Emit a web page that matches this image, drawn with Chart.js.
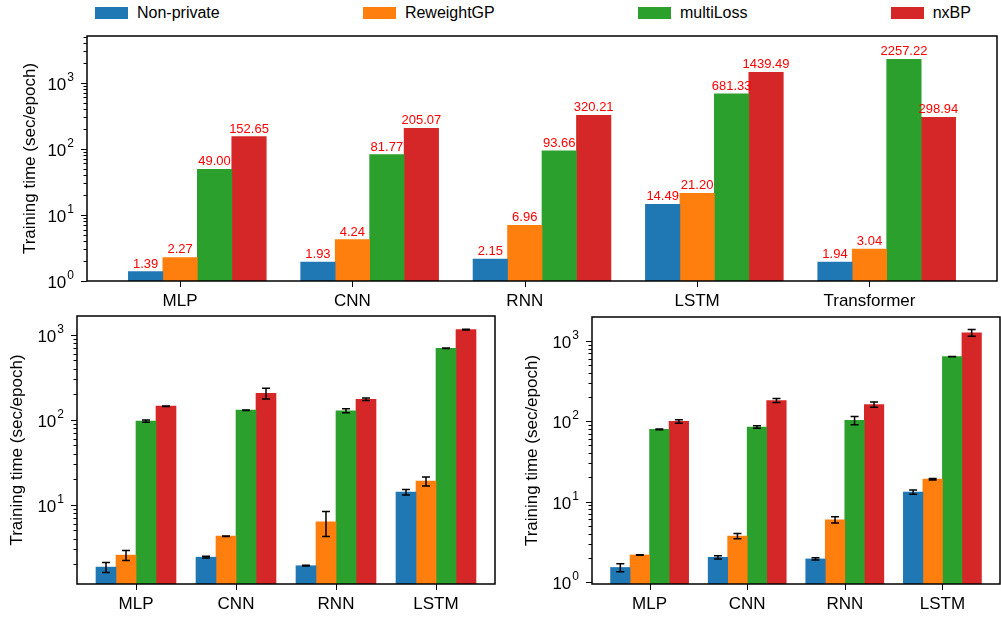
<!DOCTYPE html>
<html lang="en">
<head>
<meta charset="UTF-8" />
<title>Training time per epoch</title>
<script src="https://cdn.jsdelivr.net/npm/chart.js"></script>
<style>
    body {
        margin: 0;
        background: #fff;
        font-family: 'Liberation Sans', Arial, sans-serif;
    }
    #wrap {
        position: relative;
        width: 1001px;
        height: 617px;
        overflow: hidden;
    }
    canvas {
        position: absolute;
    }
    #legend {
        position: absolute;
        left: 95px;
        width: 876px;
        top: 4px;
        height: 18px;
        display: flex;
        justify-content: space-between;
        align-items: center;
    }
    .item {
        display: flex;
        align-items: center;
        font-size: 16px;
        color: #000;
    }
    .swatch {
        width: 33px;
        height: 12px;
        margin-right: 9px;
    }
</style>
</head>
<body>
<div id="wrap">
    <div id="legend"></div>
    <canvas id="top" width="1001" height="286" style="left:0;top:28px"></canvas>
    <canvas id="botLeft" width="500" height="305" style="left:0;top:312px"></canvas>
    <canvas id="botRight" width="501" height="305" style="left:500px;top:312px"></canvas>
</div>

<script>
const seriesNames = ['Non-private', 'ReweightGP', 'multiLoss', 'nxBP'];
const seriesColors = ['#1f77b4', '#ff7f0e', '#2ca02c', '#d62728'];

// top panel (values printed on the bars)
const topModels = ['MLP', 'CNN', 'RNN', 'LSTM', 'Transformer'];
const topNonPrivate = [1.39, 1.93, 2.15, 14.49, 1.94];
const topReweight = [2.27, 4.24, 6.96, 21.20, 3.04];
const topMultiLoss = [49.00, 81.77, 93.66, 681.33, 2257.22];
const topNxBP = [152.65, 205.07, 320.21, 1439.49, 298.94];

// bottom left panel (mean +- std)
const botModels = ['MLP', 'CNN', 'RNN', 'LSTM'];
const leftNonPrivate = [1.85, 2.42, 1.92, 14.1];
const leftNonPrivateErr = [0.25, 0.06, 0.02, 1.05];
const leftReweight = [2.56, 4.28, 6.3, 19.0];
const leftReweightErr = [0.35, 0.03, 2.05, 2.3];
const leftMultiLoss = [97, 130, 128, 697];
const leftMultiLossErr = [3, 1, 7, 5];
const leftNxBP = [145, 206, 175, 1156];
const leftNxBPErr = [1, 30, 6, 10];

// bottom right panel
const rightNonPrivate = [1.51, 2.02, 1.93, 13.1];
const rightNonPrivateErr = [0.17, 0.1, 0.06, 0.8];
const rightReweight = [2.16, 3.72, 5.94, 19.0];
const rightReweightErr = [0.02, 0.28, 0.55, 0.4];
const rightMultiLoss = [79.3, 84.7, 102.5, 638];
const rightMultiLossErr = [1, 3, 12, 3];
const rightNxBP = [99.6, 181.6, 162, 1268];
const rightNxBPErr = [5, 10, 12, 120];

// axis ranges
const topYRange = [1, 5100];
const leftYRange = [1.17, 1670];
const rightYRange = [0.94, 1990];

const FONT = "'Liberation Sans', Arial, sans-serif";
Chart.defaults.font.family = FONT;
Chart.defaults.color = '#000';

// frame, tick marks and 10^n labels like matplotlib
const axesDecor = {
    id: 'axesDecor',
    afterDraw(chart) {
        const ctx = chart.ctx;
        const a = chart.chartArea;
        const x = chart.scales.x, y = chart.scales.y;
        ctx.save();
        ctx.strokeStyle = '#000';
        ctx.fillStyle = '#000';
        ctx.lineWidth = 1;
        ctx.beginPath();
        x.ticks.forEach(t => {
            const px = Math.round(x.getPixelForValue(t.value)) + 0.5;
            ctx.moveTo(px, a.bottom);
            ctx.lineTo(px, a.bottom + 6);
        });
        const lo = Math.floor(Math.log10(y.min));
        const hi = Math.ceil(Math.log10(y.max));
        const majors = [];
        for (let e = lo; e <= hi; e++) {
            for (let k = 1; k <= 9; k++) {
                const v = k * Math.pow(10, e);
                if (v < y.min * 0.9999 || v > y.max) continue;
                const py = Math.round(y.getPixelForValue(v)) + 0.5;
                ctx.moveTo(a.left, py);
                ctx.lineTo(a.left - (k === 1 ? 6 : 3.5), py);
                if (k === 1) majors.push([e, py]);
            }
        }
        ctx.stroke();

        ctx.textAlign = 'right';
        ctx.textBaseline = 'alphabetic';
        majors.forEach(([e, py]) => {
            const sup = String(e);
            ctx.font = '12px ' + FONT;
            const w = ctx.measureText(sup).width;
            ctx.fillText(sup, a.left - 13, py - 3);
            ctx.font = '17px ' + FONT;
            ctx.fillText('10', a.left - 14 - w, py + 6);
        });

        ctx.lineWidth = 1.5;
        ctx.strokeRect(a.left, a.top, a.right - a.left, a.bottom - a.top);
        ctx.restore();
    }
};

const errorBars = {
    id: 'errorBars',
    afterDatasetsDraw(chart) {
        const ctx = chart.ctx;
        const y = chart.scales.y;
        ctx.save();
        ctx.strokeStyle = '#000';
        ctx.lineWidth = 1.5;
        chart.data.datasets.forEach((ds, di) => {
            if (!ds.errors) return;
            chart.getDatasetMeta(di).data.forEach((bar, i) => {
                const v = ds.data[i].y, e = ds.errors[i];
                const y1 = y.getPixelForValue(v + e);
                const y2 = y.getPixelForValue(Math.max(v - e, y.min));
                ctx.beginPath();
                ctx.moveTo(bar.x, y1); ctx.lineTo(bar.x, y2);
                ctx.moveTo(bar.x - 4, y1); ctx.lineTo(bar.x + 4, y1);
                ctx.moveTo(bar.x - 4, y2); ctx.lineTo(bar.x + 4, y2);
                ctx.stroke();
            });
        });
        ctx.restore();
    }
};

const valueLabels = {
    id: 'valueLabels',
    afterDatasetsDraw(chart) {
        const ctx = chart.ctx;
        ctx.save();
        ctx.fillStyle = '#ff0000';
        ctx.font = '13px ' + FONT;
        ctx.textAlign = 'center';
        ctx.textBaseline = 'alphabetic';
        chart.data.datasets.forEach((ds, di) => {
            chart.getDatasetMeta(di).data.forEach((bar, i) => {
                ctx.fillText(ds.data[i].y.toFixed(2), bar.x, bar.y - 4);
            });
        });
        ctx.restore();
    }
};

function makePanel(id, models, series, errors, cfg) {
    const datasets = series.map((vals, s) => ({
        label: seriesNames[s],
        data: vals.map((v, i) => ({ x: i + cfg.shifts[s] * 0.2, y: v })),
        errors: errors ? errors[s] : null,
        backgroundColor: seriesColors[s],
        borderWidth: 0,
        grouped: false,
        barPercentage: 1,
        categoryPercentage: 1
    }));

    const plugins = [axesDecor];
    if (errors) plugins.push(errorBars);
    if (cfg.labels) plugins.push(valueLabels);

    return new Chart(document.getElementById(id), {
        type: 'bar',
        data: { datasets },
        plugins,
        options: {
            responsive: false,
            animation: false,
            layout: { padding: { top: cfg.padTop, right: cfg.padRight, left: 0, bottom: 0 } },
            plugins: {
                legend: { display: false },
                tooltip: { enabled: false }
            },
            scales: {
                x: {
                    type: 'linear',
                    min: cfg.xRange[0],
                    max: cfg.xRange[1],
                    offset: false,
                    grid: { display: false, drawTicks: false, offset: false },
                    border: { display: false },
                    afterBuildTicks: ax => { ax.ticks = models.map((m, i) => ({ value: i })); },
                    afterFit: ax => { ax.height = 33; },
                    ticks: {
                        callback: v => models[v],
                        autoSkip: false,
                        maxRotation: 0,
                        padding: 10,
                        font: { size: 17 }
                    }
                },
                y: {
                    type: 'logarithmic',
                    min: cfg.yRange[0],
                    max: cfg.yRange[1],
                    grid: { display: false, drawTicks: false },
                    border: { display: false },
                    ticks: { display: false },
                    afterFit: ax => { ax.width = cfg.yWidth; },
                    title: {
                        display: true,
                        text: 'Training time (sec/epoch)',
                        font: { size: 17 },
                        padding: { top: cfg.titlePad, bottom: 0 }
                    }
                }
            }
        }
    });
}

const topChart = makePanel('top', topModels,
    [topNonPrivate, topReweight, topMultiLoss, topNxBP], null,
    { shifts: [-1, 0, 1, 2], xRange: [-0.54, 4.74], yRange: topYRange,
      padTop: 8, padRight: 4, yWidth: 87, titlePad: 20, labels: true });

makePanel('botLeft', botModels,
    [leftNonPrivate, leftReweight, leftMultiLoss, leftNxBP],
    [leftNonPrivateErr, leftReweightErr, leftMultiLossErr, leftNxBPErr],
    { shifts: [-1.5, -0.5, 0.5, 1.5], xRange: [-0.59, 3.59], yRange: leftYRange,
      padTop: 4, padRight: 5, yWidth: 77, titlePad: 7, labels: false });

makePanel('botRight', botModels,
    [rightNonPrivate, rightReweight, rightMultiLoss, rightNxBP],
    [rightNonPrivateErr, rightReweightErr, rightMultiLossErr, rightNxBPErr],
    { shifts: [-1.5, -0.5, 0.5, 1.5], xRange: [-0.59, 3.59], yRange: rightYRange,
      padTop: 5, padRight: 1, yWidth: 92, titlePad: 22, labels: false });

// shared legend across the top
const legend = document.getElementById('legend');
topChart.data.datasets.forEach(ds => {
    const item = document.createElement('div');
    item.className = 'item';
    item.innerHTML = `<span class="swatch" style="background:${ds.backgroundColor}"></span><span>${ds.label}</span>`;
    legend.appendChild(item);
});
</script>
</body>
</html>
